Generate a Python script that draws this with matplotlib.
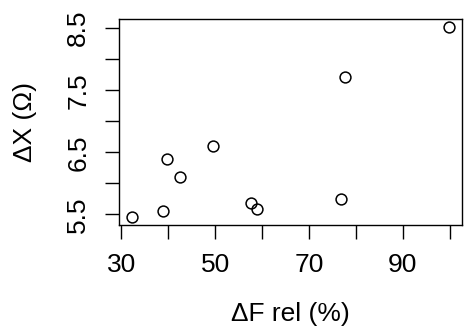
import numpy as np
from matplotlib import pyplot as plt

# Valores
delta_f_rel = [32.3, 39.0, 39.8, 42.5, 49.6, 57.6, 58.9, 76.8, 77.6, 99.9]
delta_x = [5.45, 5.56, 6.39, 6.10, 6.60, 5.69, 5.58, 5.74, 7.71, 8.52]

x_ticks = [30, 40, 50, 60, 70, 80, 90, 100]
x_labels = ['30', '', '50', '', '70', '', '90', '']
y_ticks = [5.5, 6.0, 6.5, 7.0, 7.5, 8.0, 8.5]
y_labels = ['5.5', '', '6.5', '', '7.5', '', '8.5']

plt.rcParams['font.family'] = ['Liberation Sans', 'DejaVu Sans']

fig = plt.figure(figsize=(4.65, 3.34), dpi=100)
ax = fig.add_axes([0.2566, 0.3263, 0.9935 - 0.2566, 0.942 - 0.3263])

ax.plot(delta_f_rel, delta_x, linestyle='none', marker='o', markersize=7.8,
        markerfacecolor='none', markeredgecolor='black', markeredgewidth=1.1)

# margem de 4% como no R
ax.margins(0.04)

ax.set_xticks(x_ticks)
ax.set_xticklabels(x_labels)
ax.set_yticks(y_ticks)
ax.set_yticklabels(y_labels, rotation=90, va='center')

ax.tick_params(axis='both', direction='out', length=10, width=1.0,
               labelsize=19, colors='black')
ax.tick_params(axis='x', pad=10)
ax.tick_params(axis='y', pad=11)

for s in ax.spines.values():
    s.set_linewidth(1.0)

ax.set_xlabel('ΔF rel (%)', fontsize=19, labelpad=18)
ax.set_ylabel('ΔX (Ω)', fontsize=19, labelpad=21)

fig.savefig('out.png', dpi=100)
